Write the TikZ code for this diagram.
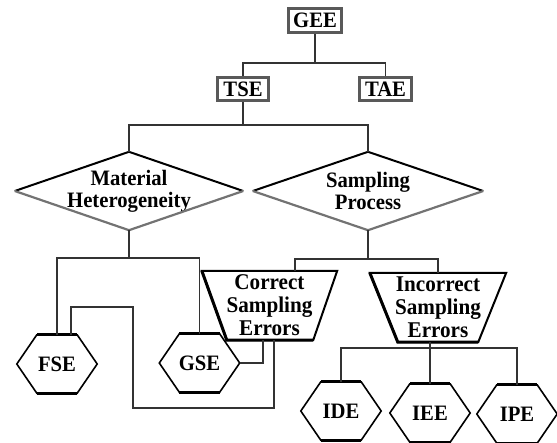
\documentclass[tikz,border=0pt]{standalone}
\usepackage{fontspec}
\setmainfont{Liberation Serif}[BoldFeatures={FakeStretch=0.94}]
\usetikzlibrary{calc}
\tikzset{
 lbl/.style={font=\bfseries\fontsize{22}{22}\selectfont, align=center, inner sep=0pt},
 boxn/.style={draw=black!65, line width=2.6pt, font=\bfseries\fontsize{22}{20}\selectfont, inner sep=0pt},
 conn/.style={draw=black!80, line width=1.1pt},
 hexn/.style={lbl, minimum width=80pt, minimum height=58pt},
 diamn/.style={lbl, minimum width=228pt, minimum height=78pt},
 trapn/.style={lbl, font=\bfseries\fontsize{22.5}{23}\selectfont, minimum width=135pt, minimum height=69pt},
 edgeblack/.style={line width=2pt, black},
 edgegray/.style={line width=2.2pt, black!55},
}
\begin{document}
\begin{tikzpicture}[x=1pt,y=-1pt]
\useasboundingbox (0,0) rectangle (557,442);
% nodes
\node[boxn, minimum width=53pt, minimum height=24pt] (gee) at (315,20.5) {GEE};
\node[boxn, minimum width=51pt, minimum height=23pt] (tse) at (243,89) {TSE};
\node[boxn, minimum width=52pt, minimum height=23pt] (tae) at (385.5,89) {TAE};
\node[diamn] (mh) at (129,191) {Material\\Heterogeneity};
\node[diamn, minimum width=230pt] (sp) at (368,191) {Sampling\\Process};
\node[trapn] (cse) at (269.5,305.5) {Correct\\Sampling\\Errors};
\node[trapn, minimum width=136pt] (ise) at (438,307.5) {Incorrect\\Sampling\\Errors};
\node[hexn] (fse) at (57,364) {FSE};
\node[hexn] (gse) at (199.5,363) {GSE};
\node[hexn] (ide) at (341,411) {IDE};
\node[hexn] (iee) at (430,413) {IEE};
\node[hexn] (ipe) at (517,414) {IPE};
% diamonds
\foreach \n in {mh,sp}{
  \draw[edgeblack] (\n.west) -- (\n.north) -- (\n.east);
  \draw[edgegray] (\n.east) -- (\n.south) -- (\n.west);
}
% trapezoids
\draw[line width=2pt] (cse.north west) -- (cse.north east) -- ($(cse.south east)+(-24,0)$) -- ($(cse.south west)+(25,0)$) -- cycle;
\draw[line width=3pt] (cse.north west) -- ($(cse.south west)+(25,0)$) -- ($(cse.south east)+(-24,0)$);
\draw[line width=2pt] (ise.north west) -- (ise.north east) -- ($(ise.south east)+(-28,0)$) -- ($(ise.south west)+(28,0)$) -- cycle;
\draw[line width=3pt] (ise.north west) -- ($(ise.south west)+(28,0)$) -- ($(ise.south east)+(-28,0)$);
% hexagons
\foreach \n in {fse,gse,ide,iee,ipe}{
  \draw[line width=1.6pt] (\n.west) -- ($(\n.north west)+(20,0)$) -- ($(\n.north east)+(-20,0)$) -- (\n.east) -- ($(\n.south east)+(-20,0)$) -- ($(\n.south west)+(20,0)$) -- cycle;
  \draw[line width=3.2pt] ($(\n.north west)+(20,0)$) -- ($(\n.north east)+(-20,0)$);
  \draw[line width=3.2pt] ($(\n.south west)+(20,0)$) -- ($(\n.south east)+(-20,0)$);
}
% connectors
\coordinate (j1) at (315,63);
\draw[conn] (gee.south) -- (j1);
\draw[conn] (tse.north) |- (j1) -| (tae.north);
\coordinate (j2) at (243,125);
\draw[conn] (tse.south) -- (j2);
\draw[conn] (mh.north) |- (j2) -| (sp.north);
\coordinate (j3) at (129,258);
\draw[conn] (mh.south) -- (j3);
\draw[conn] (fse.north) |- (j3) -| (gse.north);
\coordinate (j4) at (368,259);
\draw[conn] (sp.south) -- (j4);
\draw[conn] ($(cse.north)+(25.5,0)$) |- (j4) -| (ise.north);
\coordinate (j5) at (431,348);
\draw[conn] (iee.north) -- (iee.north |- ise.south);
\draw[conn] (ide.north) |- (j5) -| (ipe.north);
\draw[conn] (gse.east) -| ($(cse.south)+(-6.5,0)$);
\coordinate (l1) at (133,307);
\coordinate (l2) at (274,408);
\draw[conn] ($(fse.north)+(14,0)$) |- (l1) |- (l2) -- ($(cse.south)+(4.5,0)$);
\end{tikzpicture}
\end{document}
